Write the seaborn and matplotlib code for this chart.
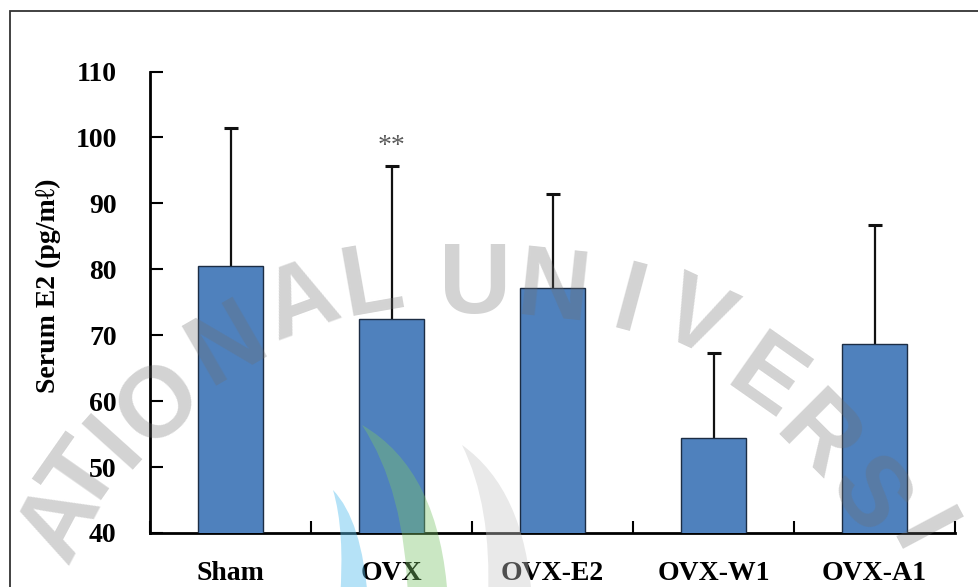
import numpy as np
import pandas as pd
import matplotlib
matplotlib.use("Agg")
import matplotlib.pyplot as plt
from matplotlib.patches import Rectangle, PathPatch
from matplotlib.path import Path
import seaborn as sns

# Serum estradiol by group (mean and SD)
groups = ["Sham", "OVX", "OVX-E2", "OVX-W1", "OVX-A1"]
means = [80.5, 72.5, 77.2, 54.4, 68.6]
sds = [21.0, 23.2, 14.2, 12.9, 18.1]
yticks = [40, 50, 60, 70, 80, 90, 100, 110]
significance = {"OVX": "**"}

sns.set_theme(style="white")
plt.rcParams["font.family"] = ["Liberation Serif", "DejaVu Serif"]

W, H = 979, 587
fig = plt.figure(figsize=(W / 100, H / 100), dpi=100)
fig.patch.set_facecolor("white")


def px(x, y):
    return x / W, 1 - y / H


ax = fig.add_axes([150 / W, (H - 533) / H, (955 - 150) / W, (533 - 71.5) / H])
ax.set_facecolor("white")

df = pd.DataFrame({"group": groups, "mean": means, "sd": sds})
sns.barplot(data=df, x="group", y="mean", order=groups, errorbar=None,
            width=0.4, color="#4f81bd", saturation=1, edgecolor="#1c2d44",
            linewidth=1.0, ax=ax, zorder=3)

xpos = np.arange(len(groups))
eb = ax.errorbar(xpos, df["mean"], yerr=[np.zeros(len(groups)), df["sd"]],
                 fmt="none", ecolor="#111111", elinewidth=1.6, capsize=5,
                 capthick=2.2, zorder=2)
# keep only the upper caps
for cap in eb[1]:
    if np.allclose(cap.get_ydata(), df["mean"]):
        cap.set_visible(False)

for g, mark in significance.items():
    i = groups.index(g)
    ax.text(i, means[i] + sds[i] + 1.0, mark, ha="center", va="bottom",
            fontsize=20, color="#5a5a5a", zorder=4)

ax.set_ylim(40, 110)
ax.set_xlim(-0.5, len(groups) - 0.5)
ax.set_yticks(yticks)
ax.set_yticklabels([str(t) for t in yticks])
ax.set_xticks(xpos)
ax.set_xticks(np.arange(-0.5, len(groups)), minor=True)
ax.set_xlabel("")
ax.set_ylabel("")

for side in ["top", "right"]:
    ax.spines[side].set_visible(False)
for side in ["left", "bottom"]:
    ax.spines[side].set_visible(True)
    ax.spines[side].set_color("black")
    ax.spines[side].set_linewidth(2)

ax.tick_params(axis="y", which="major", direction="in", length=9, width=1.5,
               color="black", pad=24, labelsize=20, left=True)
ax.tick_params(axis="x", which="major", length=0, pad=20, labelsize=20,
               bottom=True)
ax.tick_params(axis="x", which="minor", direction="in", length=9, width=1.5,
               color="black", bottom=True)
for lab in ax.get_xticklabels() + ax.get_yticklabels():
    lab.set_fontweight("bold")
    lab.set_color("black")

fig.text(*px(48, 286), "Serum E2 (pg/m\u2113)", rotation=90, ha="center",
         va="center", fontsize=20, fontweight="bold", color="black")

# outer frame
fig.patches.append(Rectangle(px(10, 620), (W + 40) / W, (620 - 11) / H,
                             transform=fig.transFigure, fill=False,
                             edgecolor="#333333", linewidth=1.3))

# watermark lettering
letters = [("A", 62, 522, 62), ("T", 84, 478, 55), ("I", 116, 442, 48),
           ("O", 160, 405, 40), ("N", 228, 345, 30), ("A", 302, 305, 20),
           ("L", 372, 285, 10), ("U", 475, 287, 0), ("N", 553, 292, -6),
           ("I", 628, 305, -15), ("V", 695, 322, -25), ("E", 765, 382, -35),
           ("R", 815, 440, -45), ("S", 866, 497, -55), ("I", 918, 535, -62)]
for ch, x, y, r in letters:
    fig.text(*px(x, y), ch, rotation=r, ha="center", va="center",
             fontsize=72, family="Liberation Sans", fontweight="bold",
             color="#6e6e6e", alpha=0.3, rotation_mode="anchor", zorder=10)


def blade(tip, outer_ctrl, outer_end, inner_end, inner_ctrl, color, alpha):
    pts = [px(*tip), px(*outer_ctrl), px(*outer_end), px(*inner_end),
           px(*inner_ctrl), px(*tip), px(*tip)]
    codes = [Path.MOVETO, Path.CURVE3, Path.CURVE3, Path.LINETO,
             Path.CURVE3, Path.CURVE3, Path.CLOSEPOLY]
    fig.patches.append(PathPatch(Path(pts, codes), transform=fig.transFigure,
                                 facecolor=color, edgecolor="none",
                                 alpha=alpha, zorder=10))


blade((333, 490), (362, 520), (368, 600), (340, 600), (345, 530), "#5bc0ee", 0.45)
blade((362, 425), (440, 470), (448, 600), (408, 600), (405, 490), "#7cc46a", 0.4)
blade((462, 445), (525, 490), (532, 600), (488, 600), (492, 505), "#c8c8c8", 0.4)

fig.savefig("out.png", dpi=100, facecolor="white")
